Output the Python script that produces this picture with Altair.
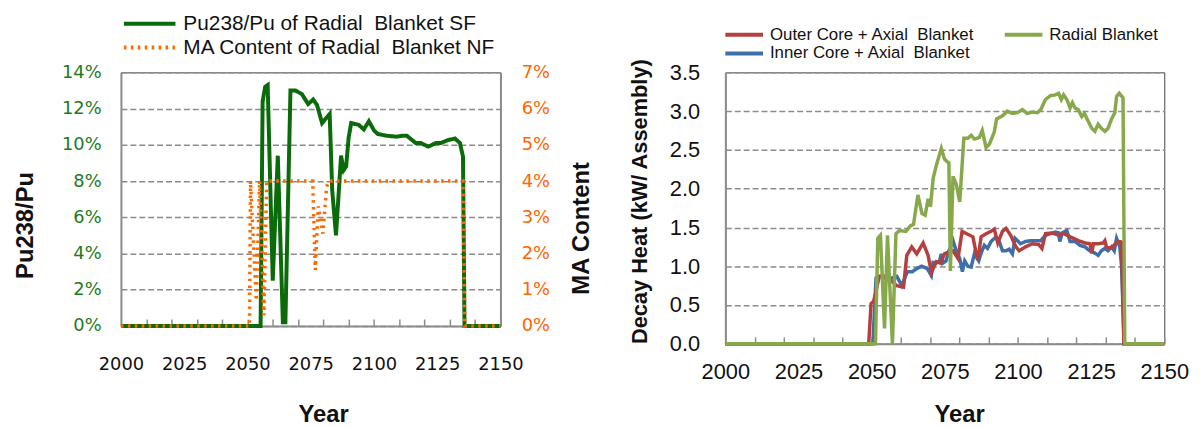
import altair as alt
import pandas as pd

# ---------------- Left panel data (percent) ----------------
pu_years = [2000, 2055.2, 2056, 2057, 2058, 2060, 2062, 2064, 2065, 2067, 2069, 2071.5,
            2074, 2076, 2077.5, 2079.5, 2082.5, 2083.5, 2085, 2087, 2088, 2089, 2090,
            2091, 2094, 2096, 2098, 2100, 2101.5, 2105, 2109, 2111, 2113, 2116.5, 2118.5,
            2121.5, 2124.5, 2126.5, 2129, 2132, 2134, 2135.2, 2135.8, 2150]
pu_vals = [0, 0, 12.4, 13.2, 13.3, 2.5, 9.4, 0.2, 0.2, 13.0, 13.0, 12.8,
           12.25, 12.5, 12.2, 11.2, 11.7, 7.5, 5.0, 9.4, 8.6, 8.8, 10.4,
           11.2, 11.1, 10.85, 11.3, 10.8, 10.6, 10.5, 10.45, 10.5, 10.5, 10.1, 10.1,
           9.9, 10.1, 10.1, 10.25, 10.35, 10.1, 9.35, 0, 0]

ma_years = [2000, 2050.8, 2051.2, 2053.5, 2054.8, 2056.5, 2057.6, 2075.8, 2076.8, 2078,
            2079, 2079.8, 2080.7, 2081.3, 2082.3, 2135.2, 2135.9, 2150]
ma_vals = [0, 0, 4, 0.7, 4, 0.3, 4, 4, 1.55, 3.3,
           2.9, 2.55, 3.3, 3.85, 4, 4, 0, 0]

# ---------------- Right panel data (kW / assembly) ----------------
outer_years = [2000, 2049.0, 2049.8, 2050.7, 2052.6, 2054.5, 2055.7, 2058.6, 2060.9, 2062.0,
               2063.7, 2065.4, 2067.6, 2069.3, 2070.4, 2072.1, 2073.5, 2074.9, 2076.0, 2077.8,
               2079.5, 2080.9, 2082.5, 2084.6, 2085.7, 2086.3, 2087.4, 2089.1, 2090.8, 2091.9,
               2093.1, 2094.7, 2095.9, 2097.5, 2099.3, 2100.4, 2102.6, 2104.9, 2107.1, 2108.2,
               2109.4, 2111.6, 2113.9, 2115.6, 2117.3, 2119.0, 2120.6, 2122.9, 2124.6, 2125.2,
               2125.8, 2127.4, 2129.1, 2129.7, 2130.3, 2132.0, 2133.1, 2133.7, 2134.8, 2135.4,
               2136.2, 2150]
outer_vals = [0, 0, 0.52, 0.55, 0.87, 0.87, 0.85, 0.75, 0.73, 1.14,
              1.25, 1.16, 1.3, 1.14, 0.92, 1.06, 1.04, 1.16, 1.18, 1.2,
              1.1, 1.45, 1.42, 1.38, 1.17, 1.08, 1.38, 1.42, 1.45, 1.48,
              1.3, 1.45, 1.49, 1.4, 1.25, 1.2, 1.25, 1.29, 1.28, 1.23,
              1.42, 1.43, 1.4, 1.42, 1.39, 1.36, 1.33, 1.3, 1.29, 1.17,
              1.29, 1.29, 1.3, 1.33, 1.24, 1.24, 1.28, 1.31, 1.32, 1.31,
              0, 0]

inner_years = [2000, 2050.4, 2051.5, 2053.0, 2055.5, 2058.6, 2060.3, 2062.2, 2063.9, 2065.4,
               2067.1, 2069.0, 2070.4, 2071.0, 2072.1, 2073.2, 2073.8, 2074.3, 2075.4, 2076.4,
               2077.8, 2078.9, 2080.1, 2081.0, 2081.8, 2082.9, 2084.0, 2085.1, 2086.6, 2087.4,
               2088.5, 2089.6, 2090.8, 2092.5, 2093.6, 2094.7, 2095.9, 2097.0, 2098.1, 2099.0,
               2100.9, 2102.6, 2104.3, 2107.8, 2109.4, 2111.1, 2112.8, 2113.9, 2114.3, 2115.1,
               2116.7, 2117.8, 2119.5, 2121.2, 2122.9, 2124.5, 2126.3, 2127.4, 2128.5, 2129.7,
               2130.8, 2132.0, 2132.9, 2133.7, 2134.8, 2135.4, 2136.3, 2150]
inner_vals = [0, 0, 0.85, 0.87, 0.83, 0.87, 0.75, 0.93, 0.93, 0.97,
              1.0, 0.97, 0.88, 1.05, 1.04, 1.07, 1.16, 1.04, 1.07, 1.2,
              1.33, 1.2, 1.1, 0.93, 1.07, 1.0, 0.99, 1.16, 1.07, 1.17,
              1.27, 1.23, 1.32, 1.38, 1.32, 1.2, 1.2, 1.22, 1.16, 1.36,
              1.29, 1.32, 1.33, 1.33, 1.4, 1.42, 1.44, 1.43, 1.32, 1.43,
              1.46, 1.32, 1.32, 1.27, 1.25, 1.2, 1.17, 1.14, 1.2, 1.23,
              1.2, 1.25, 1.2, 1.36, 1.25, 1.0, 0, 0]

radial_years = [2000, 2051.3, 2052.1, 2053.0, 2054.4, 2055.4, 2057.1, 2058.3, 2059.5, 2061.7,
                2063.2, 2064.3, 2065.8, 2067.2, 2068.3, 2069.3, 2070.1, 2071.0, 2072.1, 2073.8,
                2074.9, 2076.4, 2076.9, 2077.8, 2078.9, 2080.1, 2081.5, 2082.9, 2084.0, 2085.1,
                2086.8, 2087.8, 2089.1, 2090.3, 2091.9, 2092.7, 2094.7, 2096.4, 2098.1, 2099.8,
                2101.5, 2103.2, 2104.9, 2106.6, 2107.8, 2109.4, 2111.1, 2112.8, 2113.9, 2114.8,
                2115.6, 2116.7, 2117.8, 2118.6, 2119.5, 2120.6, 2121.8, 2122.7, 2124.0, 2125.2,
                2126.3, 2127.4, 2128.5, 2129.7, 2130.8, 2132.0, 2133.1, 2133.7, 2134.6, 2135.9,
                2136.5, 2150]
radial_vals = [0, 0, 1.36, 1.4, 0.2, 1.4, 0, 1.42, 1.46, 1.45,
               1.52, 1.54, 1.92, 1.68, 1.66, 1.87, 1.77, 2.13, 2.3, 2.52,
               2.38, 2.33, 0.94, 2.16, 2.06, 1.83, 2.65, 2.65, 2.69, 2.64,
               2.66, 2.75, 2.53, 2.58, 2.73, 2.9, 2.94, 3.0, 2.97, 2.98,
               3.02, 2.97, 2.99, 2.98, 3.02, 3.15, 3.2, 3.21, 3.23, 3.15,
               3.21, 3.15, 3.04, 3.11, 3.04, 3.02, 2.93, 2.97, 2.87, 2.78,
               2.74, 2.83, 2.78, 2.74, 2.78, 2.9, 2.98, 3.19, 3.23, 3.17,
               0, 0]

# ---------------- Tick values / labels ----------------
x_label_years = [2000, 2025, 2050, 2075, 2100, 2125, 2150]
x_tick_years = [2010, 2020, 2030, 2040, 2050, 2060, 2070, 2080, 2090, 2100, 2110, 2120, 2130, 2140, 2150]
pu_ticks = [0, 2, 4, 6, 8, 10, 12, 14]
ma_ticks = [0, 1, 2, 3, 4, 5, 6, 7]
heat_ticks = [0.0, 0.5, 1.0, 1.5, 2.0, 2.5, 3.0, 3.5]

SF = "Pu238/Pu of Radial\u00a0 Blanket SF"
NF = "MA Content of Radial\u00a0 Blanket NF"
OUTER = "Outer Core + Axial\u00a0 Blanket"
INNER = "Inner Core + Axial\u00a0 Blanket"
RADIAL = "Radial Blanket"

df_pu = pd.DataFrame({"year": pu_years, "value": pu_vals, "series": SF})
df_ma = pd.DataFrame({"year": ma_years, "value": ma_vals, "series": NF})
df_r = pd.concat([
    pd.DataFrame({"year": inner_years, "value": inner_vals, "series": INNER}),
    pd.DataFrame({"year": outer_years, "value": outer_vals, "series": OUTER}),
    pd.DataFrame({"year": radial_years, "value": radial_vals, "series": RADIAL}),
], ignore_index=True)

WL, HL = 383, 256
WR, HR = 443, 274
GRID = "#8c8c8c"
AX = "#8c8c8c"

# ---------------- Left panel ----------------
xs_l = alt.Scale(domain=[2000, 2150], nice=False, zero=False)

legend_l = alt.Legend(title=None, orient="none", legendX=1, legendY=-61, columns=1,
                      symbolType="stroke", symbolSize=2704, symbolStrokeWidth=4,
                      labelFont="Liberation Sans", labelFontSize=21, labelColor="#111",
                      labelOffset=6, clipHeight=24, rowPadding=0, labelLimit=600)
color_l = alt.Color("series:N", scale=alt.Scale(domain=[SF, NF], range=["#0b6b0b", "#ff6a00"]),
                    legend=legend_l)
dash_l = alt.StrokeDash("series:N", scale=alt.Scale(domain=[SF, NF], range=[[1, 0], [2.5, 4.5]]),
                        legend=legend_l)

pu_layer = alt.Chart(df_pu).mark_line(strokeWidth=4).encode(
    x=alt.X("year:Q", scale=xs_l, axis=alt.Axis(
        values=x_label_years, format="d", title="Year", ticks=False, grid=False,
        domainColor=AX, domainWidth=2, labelFont="DejaVu Sans", labelFontSize=18,
        labelColor="#111", labelPadding=30, labelFlush=False,
        titleFont="Liberation Sans", titleFontSize=24, titleFontWeight="bold",
        titleColor="#111", titlePadding=29, titleX=204)),
    y=alt.Y("value:Q", scale=alt.Scale(domain=[0, 14], nice=False), axis=alt.Axis(
        values=pu_ticks, labelExpr="datum.value + '%'", title="Pu238/Pu", ticks=False,
        grid=True, gridColor=GRID, gridDash=[6, 3], gridWidth=1.5,
        domainColor=AX, domainWidth=2, labelFont="DejaVu Sans", labelFontSize=18,
        labelColor="#1e7b1e", labelPadding=20, labelFlush=False,
        titleFont="Liberation Sans", titleFontSize=24, titleFontWeight="bold",
        titleColor="#111", titlePadding=24, titleY=154)),
    color=color_l, strokeDash=dash_l)

ma_layer = alt.Chart(df_ma).mark_line(strokeWidth=3.5).encode(
    x=alt.X("year:Q", scale=xs_l, axis=alt.Axis(
        orient="top", offset=-HL, values=x_tick_years, labels=False, domain=False,
        grid=False, ticks=True, tickSize=7, tickColor=AX, tickWidth=1.5, title=None)),
    y=alt.Y("value:Q", scale=alt.Scale(domain=[0, 7], nice=False), axis=alt.Axis(
        orient="right", values=ma_ticks, labelExpr="datum.value + '%'", title="MA Content",
        ticks=False, grid=False, domainColor=AX, domainWidth=2,
        labelFont="DejaVu Sans", labelFontSize=18, labelColor="#ff6600", labelPadding=21,
        labelFlush=False, titleFont="Liberation Sans", titleFontSize=24,
        titleFontWeight="bold", titleColor="#111", titleAngle=270, titleBaseline="top",
        titlePadding=20, titleY=157)),
    color=color_l, strokeDash=dash_l)

left = alt.layer(pu_layer, ma_layer).resolve_scale(y="independent").resolve_axis(
    x="independent", y="independent").properties(width=WL, height=HL)

# ---------------- Right panel ----------------
xs_r = alt.Scale(domain=[2000, 2150], nice=False, zero=False)
legend_r = alt.Legend(title=None, orient="none", legendX=-2, legendY=-47.5, columns=2,
                      columnPadding=28, symbolType="stroke", symbolSize=1444,
                      symbolStrokeWidth=4, labelFont="Liberation Sans", labelFontSize=17,
                      labelColor="#111", labelOffset=5, clipHeight=19, rowPadding=0,
                      labelLimit=400)
color_r = alt.Color("series:N", scale=alt.Scale(domain=[OUTER, INNER, RADIAL],
                                                range=["#b3403f", "#3f6fab", "#88a84c"]),
                    legend=legend_r)

heat_lines = alt.Chart(df_r).mark_line(strokeWidth=3.5).encode(
    x=alt.X("year:Q", scale=xs_r, axis=alt.Axis(
        values=x_label_years, format="d", title="Year", ticks=False, grid=False,
        domainColor=AX, domainWidth=2, labelFont="Liberation Sans", labelFontSize=22,
        labelColor="#111", labelPadding=18, labelFlush=False,
        titleFont="Liberation Sans", titleFontSize=24, titleFontWeight="bold",
        titleColor="#111", titlePadding=20, titleX=236)),
    y=alt.Y("value:Q", scale=alt.Scale(domain=[0, 3.5], nice=False), axis=alt.Axis(
        values=heat_ticks, format=".1f", title="Decay Heat (kW/ Assembly)", ticks=False,
        grid=True, gridColor=GRID, gridDash=[6, 3], gridWidth=1.5,
        domainColor=AX, domainWidth=2, labelFont="Liberation Sans", labelFontSize=22,
        labelColor="#111", labelPadding=26, labelFlush=False,
        titleFont="Liberation Sans", titleFontSize=22, titleFontWeight="bold",
        titleColor="#111", titlePadding=18, titleY=130)),
    color=color_r, detail="series:N")

heat_ticks_layer = alt.Chart(df_r).mark_line(opacity=0).encode(
    x=alt.X("year:Q", scale=xs_r, axis=alt.Axis(
        orient="top", offset=-HR, values=x_tick_years, labels=False, domain=False,
        grid=False, ticks=True, tickSize=7, tickColor=AX, tickWidth=1.5, title=None)),
    detail="series:N")

right = alt.layer(heat_lines, heat_ticks_layer).resolve_axis(x="independent").properties(
    width=WR, height=HR)

chart = alt.hconcat(left, right, spacing=33).resolve_scale(
    color="independent", strokeDash="independent").resolve_legend(
    color="independent", strokeDash="independent").properties(
    padding={"left": 5, "top": 1, "right": 5, "bottom": 0},
    background="white").configure_view(stroke="#444", strokeWidth=1)

chart.save("out.html", embed_options={"renderer": "svg", "actions": False})
